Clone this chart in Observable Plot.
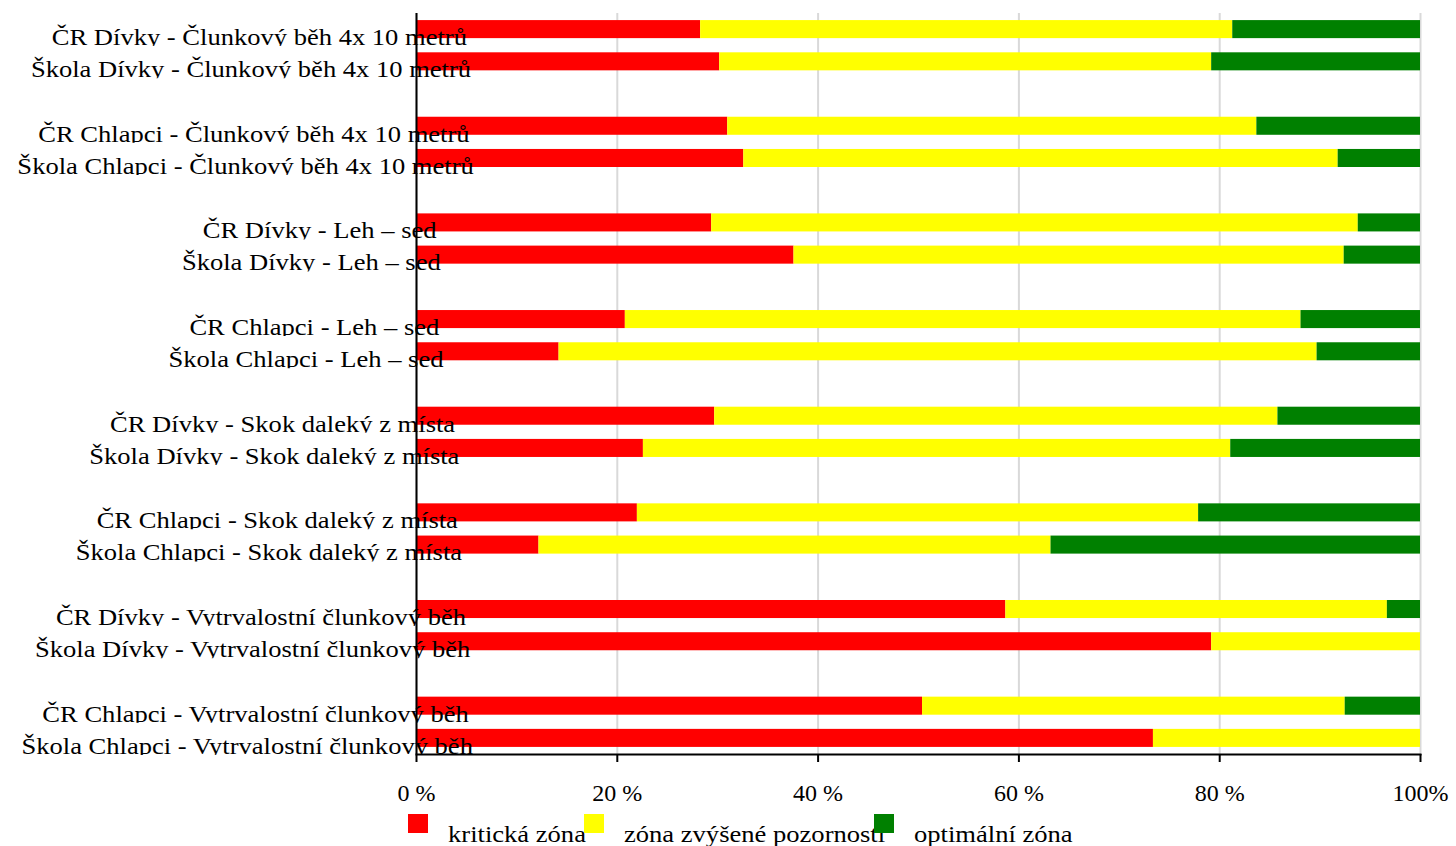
<!DOCTYPE html>
<html>
<head>
<meta charset="utf-8">
<script src="https://cdn.jsdelivr.net/npm/d3@7"></script>
<script src="https://cdn.jsdelivr.net/npm/@observablehq/plot@0.6"></script>
<style>
  html, body { margin: 0; padding: 0; background: #fff; }
  #chart svg { display: block; }
  #chart svg text { font-family: "Liberation Serif", "Times New Roman", serif; }
  #legend { position: relative; height: 40px; font-family: "Liberation Serif", "Times New Roman", serif; font-size: 23px; color: #000; white-space: nowrap; overflow: hidden; }
  .sw { position: absolute; top: 8px; width: 20px; height: 19px; }
  .lt { position: absolute; top: 17px; line-height: 23px; transform: scaleX(1.155); transform-origin: 0 50%; }
</style>
</head>
<body>
<div id="chart"></div>
<div id="legend"></div>
<script>
const categories = [
  "ČR Dívky - Člunkový běh 4x 10 metrů",
  "Škola Dívky - Člunkový běh 4x 10 metrů",
  "ČR Chlapci - Člunkový běh 4x 10 metrů",
  "Škola Chlapci - Člunkový běh 4x 10 metrů",
  "ČR Dívky - Leh – sed",
  "Škola Dívky - Leh – sed",
  "ČR Chlapci - Leh – sed",
  "Škola Chlapci - Leh – sed",
  "ČR Dívky - Skok daleký z místa",
  "Škola Dívky - Skok daleký z místa",
  "ČR Chlapci - Skok daleký z místa",
  "Škola Chlapci - Skok daleký z místa",
  "ČR Dívky - Vytrvalostní člunkový běh",
  "Škola Dívky - Vytrvalostní člunkový běh",
  "ČR Chlapci - Vytrvalostní člunkový běh",
  "Škola Chlapci - Vytrvalostní člunkový běh"
];
const critical  = [28.3, 30.2, 31.0, 32.6, 29.4, 37.6, 20.8, 14.2, 29.7, 22.6, 22.0, 12.2, 58.7, 79.2, 50.4, 73.4];
const attention = [53.0, 49.0, 52.7, 59.2, 64.4, 54.8, 67.3, 75.5, 56.1, 58.5, 55.9, 51.0, 38.0, 20.8, 42.1, 26.6];
const optimal   = [18.7, 20.8, 16.3,  8.2,  6.2,  7.6, 11.9, 10.3, 14.2, 18.9, 22.1, 36.8,  3.3,  0.0,  7.5,  0.0];
const zones = ["kritická zóna", "zóna zvýšené pozornosti", "optimální zóna"];
const zoneColors = ["#ff0000", "#ffff00", "#008000"];
const xTicks = [0, 20, 40, 60, 80, 100];
const xTickLabels = ["0 %", "20 %", "40 %", "60 %", "80 %", "100%"];

// Table for the library
const series = [critical, attention, optimal];
const rows = [];
categories.forEach((c, i) => zones.forEach((z, j) => rows.push({label: c, zone: z, value: series[j][i]})));

// y domain: pairs separated by empty spacer bands
const yDomain = [];
categories.forEach((c, i) => {
  yDomain.push(c);
  if (i % 2 === 1 && i < categories.length - 1) yDomain.push(" ".repeat(i));
});

const font = "'Liberation Serif', 'Times New Roman', serif";
const chart = Plot.plot({
  width: 1456,
  height: 806,
  marginLeft: 416,
  marginRight: 36,
  marginTop: 13,
  marginBottom: 52,
  style: {fontFamily: font, fontSize: "24px", background: "#fff", color: "#000", overflow: "visible"},
  x: {domain: [0, 100]},
  y: {type: "band", domain: yDomain, paddingInner: 0.44, paddingOuter: 0.22, round: false},
  color: {domain: zones, range: zoneColors},
  marks: [
    Plot.gridX(xTicks, {stroke: "#d9d9d9", strokeOpacity: 1, strokeWidth: 2}),
    Plot.barX(rows, {y: "label", x: "value", fill: "zone", z: "zone", order: zones}),
    Plot.ruleX([0], {stroke: "#000", strokeWidth: 2}),
    Plot.frame({anchor: "bottom", stroke: "#000", strokeWidth: 2}),
    Plot.axisX(xTicks, {tickSize: 8, tickPadding: 21, strokeWidth: 2, stroke: "#000", fill: "#000",
      fontSize: 24, tickFormat: d => xTickLabels[xTicks.indexOf(d)], label: null}),
    Plot.axisY(categories, {tickSize: 0, tickPadding: 19, dy: 8, fontSize: 23, fill: "#000", label: null, textAnchor: "end"})
  ]
});
document.getElementById("chart").appendChild(chart);

// Clip for label descenders (as in the reference rendering)
const ns = "http://www.w3.org/2000/svg";
const defs = document.createElementNS(ns, "defs");
const cp = document.createElementNS(ns, "clipPath");
cp.setAttribute("id", "labelclip");
cp.setAttribute("clipPathUnits", "objectBoundingBox");
const cr = document.createElementNS(ns, "rect");
cr.setAttribute("x", "-0.2"); cr.setAttribute("y", "-1");
cr.setAttribute("width", "1.4"); cr.setAttribute("height", "1.86");
cp.appendChild(cr); defs.appendChild(cp); chart.insertBefore(defs, chart.firstChild);

// Labels in the reference are horizontally wider glyphs whose overflow past the anchor grows with width
const yl = chart.querySelector('g[aria-label="y-axis tick label"]');
if (yl) yl.querySelectorAll("text").forEach(t => {
  const w = t.getComputedTextLength();
  const tr = t.getAttribute("transform") || "";
  t.setAttribute("transform", tr + " scale(1.155,1)");
  t.setAttribute("dx", (0.167 * w).toFixed(1));
  t.setAttribute("clip-path", "url(#labelclip)");
});

// Legend
const legend = document.getElementById("legend");
const swLeft = [408, 584, 874];
zones.forEach((z, i) => {
  const sw = document.createElement("span");
  sw.className = "sw";
  sw.style.left = swLeft[i] + "px";
  sw.style.background = zoneColors[i];
  const lt = document.createElement("span");
  lt.className = "lt";
  lt.style.left = (swLeft[i] + 40) + "px";
  lt.textContent = z;
  legend.appendChild(sw);
  legend.appendChild(lt);
});
</script>
</body>
</html>
